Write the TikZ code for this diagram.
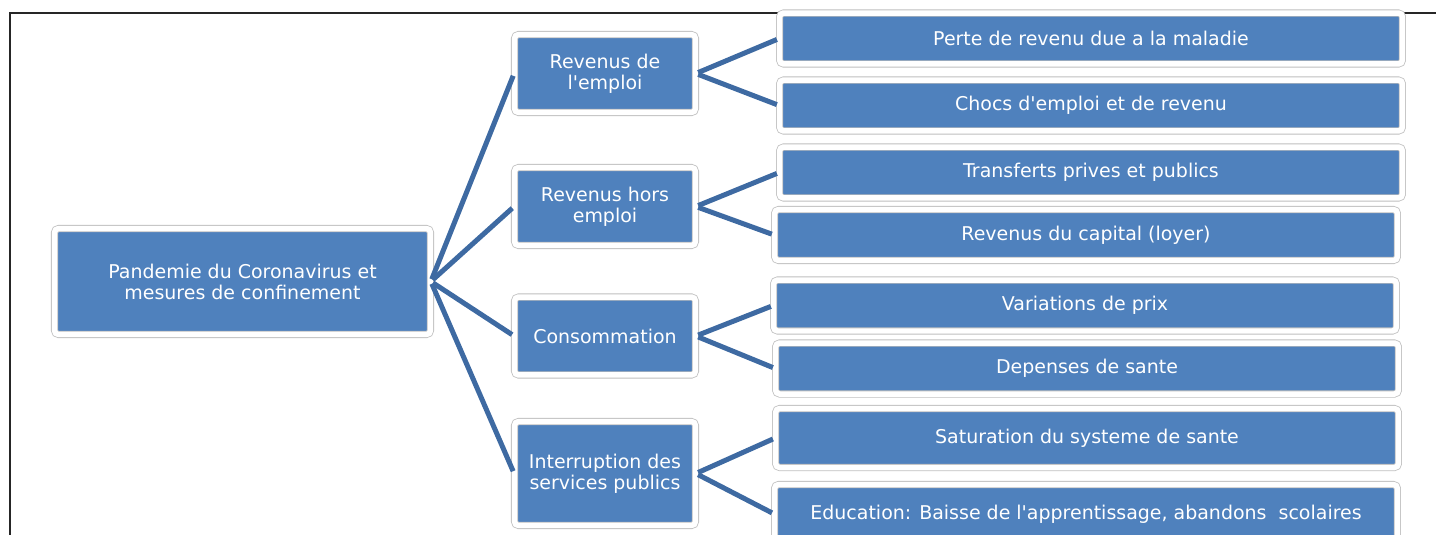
\documentclass[tikz,border=0pt]{standalone}
\usepackage{fontspec}
\setmainfont{DejaVu Sans}
\definecolor{boxblue}{HTML}{4F81BD}
\definecolor{lnkblue}{HTML}{3E6AA2}
\begin{document}
\begin{tikzpicture}[
  x=0.02cm, y=-0.02cm,
  box/.style={draw=black!25, line width=0.45pt, double=white, double distance=0.11cm,
              fill=boxblue, rounded corners=0.08cm, text=white, align=center,
              inner sep=0pt, font=\fontsize{10.8}{12}\selectfont},
  mainbox/.style={box, minimum width=7.52cm, minimum height=2.12cm},
  midbox/.style={box, minimum width=3.62cm, minimum height=1.56cm},
  leafbox/.style={box, minimum width=12.46cm, minimum height=1.02cm},
  lnk/.style={draw=lnkblue, line width=0.1cm, shorten <=0.05cm, shorten >=0.05cm}
]
\useasboundingbox (0,0) rectangle (1436,534);
\draw[black!85, line width=0.04cm] (10,540) -- (10,13) -- (1440,13);
\node[mainbox] (pand) at (242.5,281.5) {Pandemie du Coronavirus et\\mesures de confinement};
\node[midbox] (emploi) at (605,73.5)  {Revenus de\\l\textquotesingle emploi};
\node[midbox] (hors)   at (605,206.5) {Revenus hors\\emploi};
\node[midbox] (conso)  at (605,336)   {Consommation};
\node[midbox, minimum height=2.08cm] (servi) at (605,473.5) {Interruption des\\services publics};
\node[leafbox] (perte)   at (1091,38.5)  {Perte de revenu due a la maladie};
\node[leafbox] (chocs)   at (1091,105.5) {Chocs d\textquotesingle emploi et de revenu};
\node[leafbox] (transf)  at (1091,172.5) {Transferts prives et publics};
\node[leafbox] (capital) at (1086,235)   {Revenus du capital (loyer)};
\node[leafbox] (prix)    at (1085,305.5) {Variations de prix};
\node[leafbox] (sante)   at (1087,368.5) {Depenses de sante};
\node[leafbox, minimum height=1.18cm] (satur) at (1087,438) {Saturation du systeme de sante};
\node[leafbox, minimum height=1.18cm] (educ)  at (1086,514) {Education: Baisse de l\textquotesingle apprentissage, abandons~ scolaires};
\draw[lnk] (pand.east) -- (emploi.west);
\draw[lnk] (pand.east) -- (hors.west);
\draw[lnk] (pand.east) -- (conso.west);
\draw[lnk] (pand.east) -- (servi.west);
\draw[lnk] (emploi.east) -- (perte.west);
\draw[lnk] (emploi.east) -- (chocs.west);
\draw[lnk] (hors.east) -- (transf.west);
\draw[lnk] (hors.east) -- (capital.west);
\draw[lnk] (conso.east) -- (prix.west);
\draw[lnk] (conso.east) -- (sante.west);
\draw[lnk] (servi.east) -- (satur.west);
\draw[lnk] (servi.east) -- (educ.west);
\end{tikzpicture}
\end{document}
